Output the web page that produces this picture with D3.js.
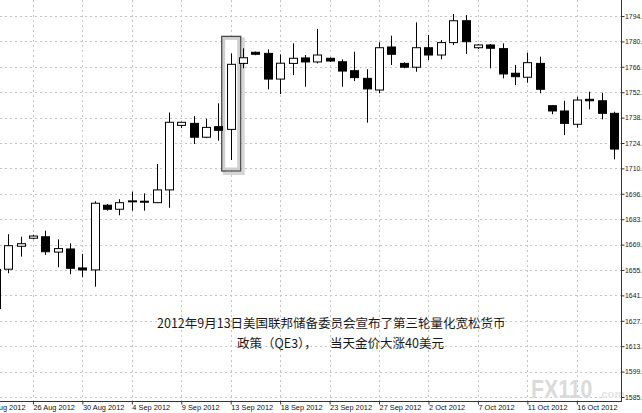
<!DOCTYPE html>
<html>
<head>
<meta charset="utf-8">
<script src="https://cdn.jsdelivr.net/npm/d3@7/dist/d3.min.js"></script>
<style>
  html, body { margin: 0; padding: 0; background: #fff; }
  svg { display: block; }
</style>
</head>
<body>
<svg id="chart" width="642" height="413"></svg>
<script>
// ---- data ----
const days = [
  "21 Aug 2012","22 Aug 2012","23 Aug 2012","24 Aug 2012","26 Aug 2012","27 Aug 2012","28 Aug 2012","29 Aug 2012","30 Aug 2012","31 Aug 2012",
  "2 Sep 2012","3 Sep 2012","4 Sep 2012","5 Sep 2012","6 Sep 2012","7 Sep 2012","9 Sep 2012","10 Sep 2012","11 Sep 2012","12 Sep 2012",
  "13 Sep 2012","14 Sep 2012","16 Sep 2012","17 Sep 2012","18 Sep 2012","19 Sep 2012","20 Sep 2012","21 Sep 2012","23 Sep 2012","24 Sep 2012",
  "25 Sep 2012","26 Sep 2012","27 Sep 2012","28 Sep 2012","30 Sep 2012","1 Oct 2012","2 Oct 2012","3 Oct 2012","4 Oct 2012","5 Oct 2012",
  "7 Oct 2012","8 Oct 2012","9 Oct 2012","10 Oct 2012","11 Oct 2012","12 Oct 2012","14 Oct 2012","15 Oct 2012","16 Oct 2012","17 Oct 2012",
  "18 Oct 2012","19 Oct 2012"
];
const open  = [null,1634.0,1655.6,1668.2,1672.6,1673.4,1665.0,1666.7,1656.3,1655.2,
  1690.7,1688.5,1692.8,1692.9,1692.1,1699.1,1734.5,1735.6,1728.0,1733.8,
  1732.3,1768.5,1774.6,1774.0,1759.9,1768.5,1771.5,1769.3,1771.3,1769.4,
  1764.5,1760.3,1753.9,1777.5,1768.5,1766.4,1777.1,1773.1,1779.9,1791.9,
  1777.1,1778.6,1776.6,1763.1,1760.9,1768.5,1745.3,1742.4,1735.1,1748.8,
  1748.0,1741.1];
const high  = [null,1657.5,1674.8,1673.4,1674.5,1676.7,1672.0,1669.8,1663.9,1692.9,
  1691.4,1694.0,1698.1,1697.2,1713.3,1741.5,1736.5,1739.6,1738.2,1746.6,
  1774.0,1776.8,1775.0,1776.2,1773.5,1779.5,1773.1,1787.4,1771.8,1770.7,
  1774.9,1765.3,1780.1,1783.7,1769.1,1791.0,1784.1,1781.3,1795.6,1795.0,
  1779.1,1779.1,1779.5,1767.6,1774.4,1772.2,1745.5,1748.0,1750.2,1753.0,
  1752.4,1742.0];
const low   = [null,1631.5,1653.4,1662.5,1672.0,1663.4,1656.7,1652.8,1651.2,1646.0,
  1687.7,1685.2,1687.7,1687.7,1691.9,1689.3,1733.0,1724.3,1727.5,1726.1,
  1715.5,1765.8,1773.0,1754.3,1751.7,1762.1,1755.7,1768.5,1769.3,1755.7,
  1758.8,1736.0,1752.1,1767.6,1765.8,1763.9,1770.4,1770.7,1778.6,1773.7,
  1776.4,1765.8,1760.3,1756.6,1757.9,1752.1,1740.6,1729.2,1733.2,1743.3,
  1737.8,1715.9];
const close = [null,1655.5,1668.5,1669.6,1673.8,1665.2,1666.9,1656.1,1655.2,1691.8,
  1688.5,1692.1,1693.1,1692.7,1699.1,1736.2,1736.2,1728.0,1733.4,1731.8,
  1768.0,1771.6,1773.5,1759.9,1768.6,1771.3,1769.3,1773.1,1769.8,1764.3,
  1760.7,1754.5,1777.1,1773.5,1766.4,1777.1,1773.1,1779.9,1791.9,1780.4,
  1778.6,1776.8,1762.7,1761.2,1768.9,1754.3,1742.4,1735.6,1748.4,1748.0,
  1741.1,1721.5];
const priceTicks = [1794.5,1780.57,1766.63,1752.7,1738.77,1724.83,1710.9,1696.97,
  1683.03,1669.1,1655.17,1641.23,1627.3,1613.37,1599.43,1585.5];
const dateTicks = ["21 Aug 2012","26 Aug 2012","30 Aug 2012","4 Sep 2012","9 Sep 2012","13 Sep 2012",
  "18 Sep 2012","23 Sep 2012","27 Sep 2012","2 Oct 2012","7 Oct 2012","11 Oct 2012","16 Oct 2012"];
const highlightDay = "13 Sep 2012";
const noteLine1 = "2012年9月13日美国联邦储备委员会宣布了第三轮量化宽松货币";
const noteLine2a = "政策（QE3），";
const noteLine2b = "当天金价大涨40美元";

// ---- layout ----
const plotRight = 621, plotBottom = 401;
const svg = d3.select("#chart");

const x = d3.scalePoint().domain(days).range([-16.5, 613.9]);
const y = d3.scaleLinear().domain([1585.5, 1794.5]).range([397, 16]);
const bodyW = 8;

const candles = days.map((d, i) => ({day: d, o: open[i], h: high[i], l: low[i], c: close[i]}))
  .filter(d => d.o !== null);

svg.append("defs").append("clipPath").attr("id", "plotclip")
  .append("rect").attr("x", 0).attr("y", 0).attr("width", plotRight).attr("height", plotBottom);

// grid
const grid = svg.append("g").attr("stroke", "#c4c4c4").attr("stroke-dasharray", "2,3").attr("stroke-width", 1);
grid.selectAll("line.h").data(priceTicks).join("line")
  .attr("x1", 0).attr("x2", plotRight)
  .attr("y1", d => Math.round(y(d)) + 0.5).attr("y2", d => Math.round(y(d)) + 0.5);
grid.selectAll("line.v").data(dateTicks).join("line")
  .attr("y1", 0).attr("y2", plotBottom)
  .attr("x1", d => Math.round(x(d)) + 0.5).attr("x2", d => Math.round(x(d)) + 0.5);

// watermark
const wm = svg.append("g");
wm.append("text").attr("transform", "translate(531,398) scale(0.85,1)")
  .attr("font-family", "Liberation Sans, Arial, sans-serif")
  .attr("font-weight", "bold").attr("font-size", 25).attr("fill", "#dadada").text("FX110");
wm.append("text").attr("x", 598).attr("y", 398).attr("font-family", "Liberation Sans, Arial, sans-serif")
  .attr("font-weight", "bold").attr("font-size", 11.5).attr("fill", "#e4e4e4").text(".com");

// highlight box
const hx = x(highlightDay);
const hi = days.indexOf(highlightDay);
const bx = hx - 9, bw = 19;
const by = y(high[hi]) - 17, bh = (y(low[hi]) + 11) - by;
const hb = svg.append("g");
hb.append("rect").attr("x", bx + 2.5).attr("y", by + 2.5).attr("width", bw).attr("height", bh)
  .attr("fill", "none").attr("stroke", "#d6d6d6").attr("stroke-width", 3);
hb.append("rect").attr("x", bx + 2).attr("y", by + 2).attr("width", bw - 4).attr("height", bh - 4)
  .attr("fill", "#fff").attr("stroke", "#cfcfcf").attr("stroke-width", 3);
hb.append("rect").attr("x", bx).attr("y", by).attr("width", bw).attr("height", bh)
  .attr("fill", "none").attr("stroke", "#4a4a4a").attr("stroke-width", 1.3);

// candles
const cg = svg.append("g").attr("clip-path", "url(#plotclip)");
const cs = cg.selectAll("g.c").data(candles).join("g");
cs.append("line")
  .attr("x1", d => Math.round(x(d.day)) + 0.5).attr("x2", d => Math.round(x(d.day)) + 0.5)
  .attr("y1", d => y(d.h)).attr("y2", d => y(d.l))
  .attr("stroke", "#000").attr("stroke-width", 1);
cs.append("rect")
  .attr("x", d => Math.round(x(d.day)) - bodyW / 2 + 0.5)
  .attr("y", d => y(Math.max(d.o, d.c)))
  .attr("width", bodyW)
  .attr("height", d => Math.max(1, Math.abs(y(d.o) - y(d.c))))
  .attr("fill", d => d.c >= d.o ? "#fff" : "#000")
  .attr("stroke", "#000").attr("stroke-width", 1);

// axes lines
svg.append("line").attr("x1", plotRight + 0.5).attr("x2", plotRight + 0.5).attr("y1", 0).attr("y2", plotBottom + 1)
  .attr("stroke", "#333").attr("stroke-width", 1);
svg.append("line").attr("x1", 0).attr("x2", plotRight + 1).attr("y1", plotBottom + 0.5).attr("y2", plotBottom + 0.5)
  .attr("stroke", "#333").attr("stroke-width", 1);

// right axis
const ya = svg.append("g").attr("transform", `translate(${plotRight + 0.5},0)`)
  .call(d3.axisRight(y).tickValues(priceTicks).tickFormat(d => Math.floor(d) + ".").tickSize(3).tickPadding(0.5));
ya.select(".domain").remove();
ya.selectAll("line").attr("stroke", "#333");
ya.selectAll("text").attr("font-family", "Liberation Sans, Arial, sans-serif").attr("font-size", 6.9).attr("fill", "#222");

// bottom axis
const xa = svg.append("g").attr("transform", `translate(0,${plotBottom + 0.5})`)
  .call(d3.axisBottom(x).tickValues(dateTicks).tickSize(3).tickPadding(1));
xa.select(".domain").remove();
xa.selectAll("line").attr("stroke", "#333");
xa.selectAll("text").attr("text-anchor", "start").attr("x", 0).attr("y", 3).attr("dy", "0.71em")
  .attr("font-family", "Liberation Sans, Arial, sans-serif").attr("font-size", 7.4).attr("fill", "#111");

// annotation
const note = svg.append("g").attr("font-family", "'Noto Sans CJK SC', sans-serif").attr("fill", "#1a1a1a").attr("font-size", 12.5);
note.append("text").attr("x", 157).attr("y", 328).text(noteLine1);
note.append("text").attr("x", 237).attr("y", 348).text(noteLine2a);
note.append("text").attr("x", 330).attr("y", 348).text(noteLine2b);
</script>
</body>
</html>
